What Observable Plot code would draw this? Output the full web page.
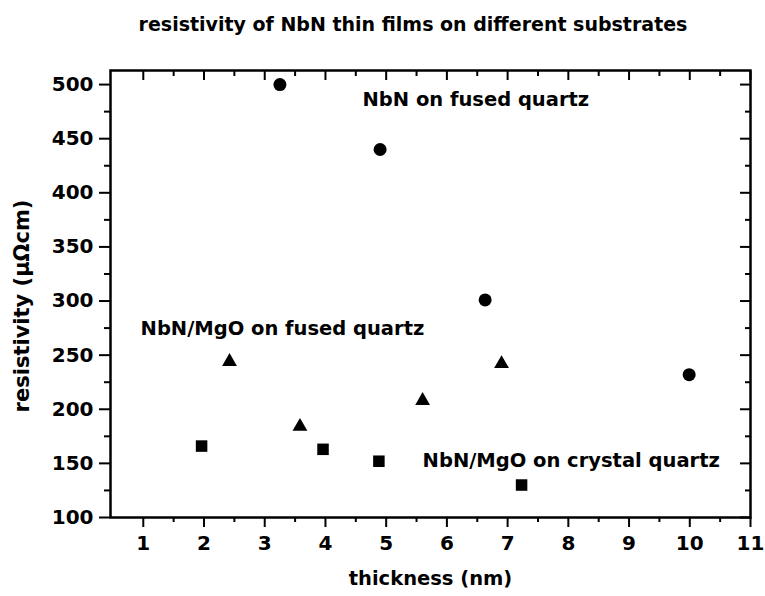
<!DOCTYPE html>
<html>
<head>
<meta charset="utf-8">
<script src="https://cdn.jsdelivr.net/npm/d3@7"></script>
<script src="https://cdn.jsdelivr.net/npm/@observablehq/plot@0.6"></script>
<style>
  html, body { margin: 0; padding: 0; background: #fff; }
  #title { box-sizing: border-box; width: 765px; height: 56px; padding: 15px 0 0 61px;
    font: bold 19px "DejaVu Sans", sans-serif; line-height: 19px; text-align: center; color: #000; }
</style>
</head>
<body>
<div id="title">resistivity of NbN thin films on different substrates</div>
<div id="chart"></div>
<script>
// NbN on fused quartz (circles)
const thickFused = [3.25, 4.9, 6.63, 9.99];
const resFused = [500, 440, 301, 232];
// NbN/MgO on fused quartz (triangles)
const thickMgOFused = [2.42, 3.58, 5.6, 6.9];
const resMgOFused = [244, 184, 208, 242];
// NbN/MgO on crystal quartz (squares)
const thickMgOCrystal = [1.96, 3.96, 4.88, 7.23];
const resMgOCrystal = [166, 163, 152, 130];

const labels = ["NbN on fused quartz", "NbN/MgO on fused quartz", "NbN/MgO on crystal quartz"];
const labelThick = [4.61, 0.955, 5.6];
const labelRes = [486, 274, 152];

const xTicks = [1, 2, 3, 4, 5, 6, 7, 8, 9, 10, 11];
const xMinor = [1.5, 2.5, 3.5, 4.5, 5.5, 6.5, 7.5, 8.5, 9.5, 10.5];
const yTicks = [100, 150, 200, 250, 300, 350, 400, 450, 500];
const yMinor = [125, 175, 225, 275, 325, 375, 425, 475];

const pts = (xs, ys) => xs.map((x, i) => ({x, y: ys[i]}));
const ann = labels.map((t, i) => ({t, x: labelThick[i], y: labelRes[i]}));

const chart = Plot.plot({
  width: 765,
  height: 540,
  marginTop: 14,
  marginBottom: 79,
  marginLeft: 110,
  marginRight: 15,
  style: {fontFamily: "DejaVu Sans, sans-serif", fontWeight: "bold", fontSize: "20px", color: "#000", background: "#fff"},
  x: {domain: [0.46, 11]},
  y: {domain: [100, 513]},
  marks: [
    Plot.axisX(xTicks, {anchor: "bottom", tickSize: 10, tickPadding: 8, strokeWidth: 2, label: null}),
    Plot.axisX(xMinor, {anchor: "bottom", tickSize: 5, strokeWidth: 2, text: null, label: null}),
    Plot.axisX(xTicks, {anchor: "top", tickSize: -9, strokeWidth: 2, text: null, label: null}),
    Plot.axisX(xMinor, {anchor: "top", tickSize: -5, strokeWidth: 2, text: null, label: null}),
    Plot.axisY(yTicks, {anchor: "left", tickSize: 11, tickPadding: 6, strokeWidth: 2, label: null}),
    Plot.axisY(yMinor, {anchor: "left", tickSize: 6, strokeWidth: 2, text: null, label: null}),
    Plot.axisY(yTicks, {anchor: "right", tickSize: -11, strokeWidth: 2, text: null, label: null}),
    Plot.axisY(yMinor, {anchor: "right", tickSize: -6, strokeWidth: 2, text: null, label: null}),
    Plot.frame({stroke: "#000", strokeWidth: 2.5}),
    Plot.dot(pts(thickFused, resFused), {x: "x", y: "y", r: 6.5, fill: "#000", symbol: "circle"}),
    Plot.dot(pts(thickMgOFused, resMgOFused), {x: "x", y: "y", r: 5.5, fill: "#000", symbol: "triangle"}),
    Plot.dot(pts(thickMgOCrystal, resMgOCrystal), {x: "x", y: "y", r: 6.5, fill: "#000", symbol: "square"}),
    Plot.text(ann, {x: "x", y: "y", text: "t", textAnchor: "start", lineAnchor: "middle", fill: "#000", fontSize: 19.5}),
    Plot.text(["thickness (nm)"], {frameAnchor: "bottom", dy: 67, fill: "#000", fontSize: 19.5}),
    Plot.text(["resistivity (μΩcm)"], {frameAnchor: "left", dx: -88, dy: 12, rotate: -90, textAnchor: "middle", fill: "#000", fontSize: 21})
  ]
});
document.getElementById("chart").appendChild(chart);
</script>
</body>
</html>
